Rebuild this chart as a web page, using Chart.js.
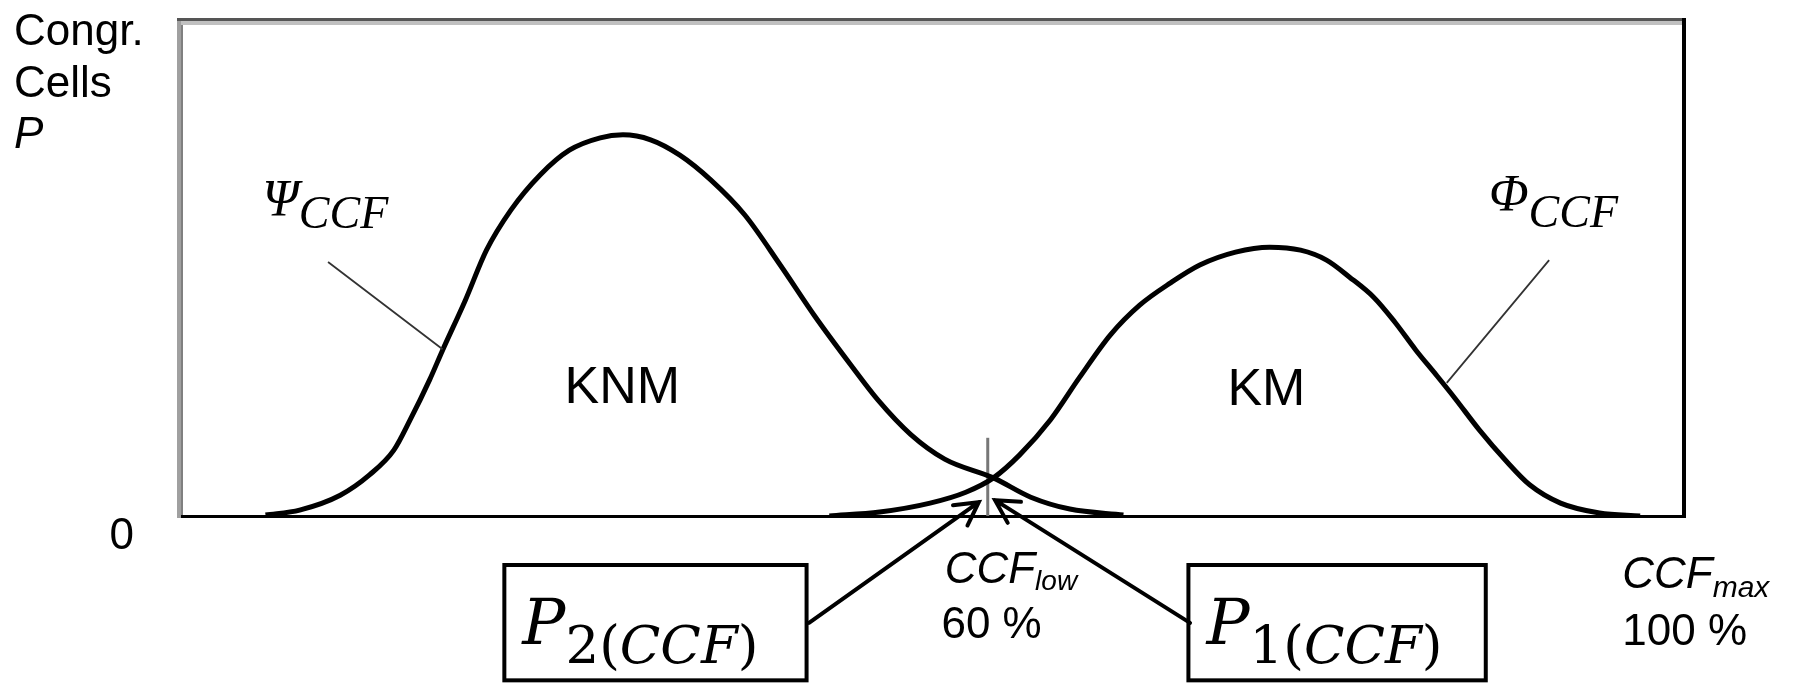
<!DOCTYPE html>
<html>
<head>
<meta charset="utf-8">
<script src="https://cdn.jsdelivr.net/npm/chart.js@4.4.1/dist/chart.umd.min.js"></script>
<style>
  html, body { margin: 0; padding: 0; background: #fff; }
  #wrap { width: 1805px; height: 683px; }
</style>
</head>
<body>
<div id="wrap"><canvas id="ccfChart" width="1805" height="683"></canvas></div>
<script>
// CCF axis (percent) and relative frequency of congruent cells
const knmX = [15.2, 17.3, 19.8, 21.6, 23.1, 24.1, 25.3, 26.1, 27.5, 28.8, 30.3, 32.1, 33.9, 35.8, 37.2,
  38.9, 40.7, 42.6, 44.7, 46.9, 49.0, 51.2, 52.9, 54.9, 57.0, 60.0, 62.3, 64.7, 68.0];
const knmY = [0.2, 1.2, 4.2, 8.3, 13.3, 19.4, 27.5, 33.5, 43.6, 53.7, 61.8, 68.9, 73.9, 76.4, 77.0,
  76.0, 72.9, 67.9, 60.8, 50.6, 40.4, 30.6, 23.4, 16.5, 11.5, 7.7, 3.8, 1.4, 0.2];

const kmX = [49.9, 53.0, 56.1, 58.3, 60.0, 61.6, 63.5, 65.3, 67.2, 69.0, 70.9, 72.7, 74.9, 77.0,
  78.9, 80.5, 81.9, 83.4, 84.7, 86.0, 87.2, 88.4, 89.9, 91.5, 93.0, 94.9, 97.3, 99.8];
const kmY = [0, 0.8, 2.6, 4.8, 7.7, 12.3, 19.4, 28.0, 36.6, 42.6, 47.1, 50.7, 53.3, 54.3,
  53.7, 51.7, 48.3, 44.2, 39.2, 33.5, 28.7, 23.8, 17.4, 11.3, 6.3, 2.6, 0.6, 0];

const ccfLow = 60;
const ccfMax = 100;

const toPoints = (xs, ys) => xs.map((x, i) => ({ x: x, y: ys[i] }));

const SANS = '"Liberation Sans", Arial, sans-serif';
const SERIF = '"Liberation Serif", "Times New Roman", serif';
const MATH = '"DejaVu Serif", serif';

// draws a run of text pieces one after the other: [text, font, dy]
function drawRuns(ctx, x, y, runs) {
  let cx = x;
  runs.forEach(r => {
    ctx.font = r[1];
    ctx.fillText(r[0], cx, y + (r[2] || 0));
    cx += ctx.measureText(r[0]).width;
  });
}

function arrow(ctx, x1, y1, x2, y2) {
  const a = Math.atan2(y2 - y1, x2 - x1);
  const len = 26;
  ctx.beginPath();
  ctx.moveTo(x1, y1);
  ctx.lineTo(x2, y2);
  ctx.moveTo(x2 - len * Math.cos(a - 0.5), y2 - len * Math.sin(a - 0.5));
  ctx.lineTo(x2, y2);
  ctx.lineTo(x2 - len * Math.cos(a + 0.5), y2 - len * Math.sin(a + 0.5));
  ctx.stroke();
}

const framePlugin = {
  id: "frame",
  beforeDatasetsDraw(chart) {
    const ctx = chart.ctx;
    const a = chart.chartArea;
    ctx.save();
    // left wall, grey two tone
    ctx.fillStyle = "#a0a0a0";
    ctx.fillRect(a.left - 4, a.top - 3, 4, a.bottom - a.top + 5);
    ctx.fillStyle = "#808080";
    ctx.fillRect(a.left, a.top, 2, a.bottom - a.top);
    // top edge
    ctx.fillStyle = "#555555";
    ctx.fillRect(a.left - 4, a.top - 3, a.right - a.left + 6, 3);
    ctx.fillStyle = "#c0c0c0";
    ctx.fillRect(a.left, a.top, a.right - a.left - 2, 4);
    // right and bottom edges
    ctx.fillStyle = "#000";
    ctx.fillRect(a.right - 2, a.top - 3, 4, a.bottom - a.top + 5);
    ctx.fillRect(a.left, a.bottom - 1, a.right - a.left + 2, 3);
    // marker at CCF low
    const xs = chart.scales.x, ys = chart.scales.y;
    ctx.strokeStyle = "#777";
    ctx.lineWidth = 3;
    ctx.beginPath();
    ctx.moveTo(xs.getPixelForValue(ccfLow - 0.35), ys.getPixelForValue(15.8));
    ctx.lineTo(xs.getPixelForValue(ccfLow - 0.35), ys.getPixelForValue(0));
    ctx.stroke();
    ctx.restore();
  },
  afterDatasetsDraw(chart) {
    const ctx = chart.ctx;
    const xs = chart.scales.x, ys = chart.scales.y;
    const X = v => xs.getPixelForValue(v);
    const Y = v => ys.getPixelForValue(v);
    ctx.save();
    ctx.fillStyle = "#000";
    ctx.textBaseline = "alphabetic";

    // y axis title and zero
    ctx.font = "44px " + SANS;
    ctx.fillText("Congr.", 14, 45);
    ctx.fillText("Cells", 14, 97);
    ctx.font = "italic 44px " + SANS;
    ctx.fillText("P", 14, 148);
    ctx.font = "44px " + SANS;
    ctx.textAlign = "right";
    ctx.fillText("0", X(7.1), Y(-6.7));
    ctx.textAlign = "left";

    // curve names
    ctx.font = "52px " + SANS;
    ctx.fillText("KNM", X(33.6), Y(22.8));
    ctx.fillText("KM", X(74.4), Y(22.4));

    // leader lines
    ctx.strokeStyle = "#333";
    ctx.lineWidth = 1.8;
    ctx.beginPath();
    ctx.moveTo(X(19.05), Y(51.3));
    ctx.lineTo(X(26.1), Y(33.7));
    ctx.moveTo(X(94.2), Y(51.7));
    ctx.lineTo(X(87.9), Y(26.9));
    ctx.stroke();

    drawRuns(ctx, X(15.0), Y(60.6), [["\u03A8", "italic 52px " + SERIF, 0], ["CCF", "italic 46px " + SERIF, 12]]);
    drawRuns(ctx, X(90.5), Y(61.6), [["\u03A6", "italic 52px " + SERIF, 0], ["CCF", "italic 46px " + SERIF, 16]]);

    // x labels
    drawRuns(ctx, X(57.0), Y(-13.5), [["CCF", "italic 44px " + SANS, 0], ["low", "italic 28px " + SANS, 7]]);
    ctx.font = "44px " + SANS;
    ctx.fillText("60 %", X(56.8), Y(-24.6));
    drawRuns(ctx, X(98.7), Y(-14.5), [["CCF", "italic 44px " + SANS, 0], ["max", "italic 30px " + SANS, 9]]);
    ctx.font = "44px " + SANS;
    ctx.fillText("100 %", X(98.7), Y(-26.1));

    // probability boxes
    ctx.strokeStyle = "#000";
    ctx.lineWidth = 4;
    const boxes = [[29.9, 48.5, "2"], [72.0, 90.3, "1"]];
    boxes.forEach(b => {
      const l = X(b[0]), r = X(b[1]), t = Y(-9.9), btm = Y(-33.2);
      ctx.strokeRect(l, t, r - l, btm - t);
      drawRuns(ctx, l + 18, Y(-25.8), [
        ["P", "italic 64px " + MATH, 0],
        [b[2] + "(", "53px " + MATH, 19],
        ["CCF", "italic 53px " + MATH, 19],
        [")", "53px " + MATH, 19]
      ]);
    });

    // arrows to the crossing
    ctx.lineWidth = 4;
    ctx.lineCap = "round";
    arrow(ctx, X(48.65), Y(-21.6), X(59.1), Y(2.8));
    arrow(ctx, X(72.1), Y(-21.6), X(60.1), Y(3.2));
    ctx.restore();
  }
};

const ctx = document.getElementById("ccfChart").getContext("2d");
const chart = new Chart(ctx, {
  type: "line",
  data: {
    datasets: [
      {
        label: "KNM",
        data: toPoints(knmX, knmY),
        borderColor: "#000",
        borderWidth: 5,
        pointRadius: 0,
        cubicInterpolationMode: "monotone",
        fill: false
      },
      {
        label: "KM",
        data: toPoints(kmX, kmY),
        borderColor: "#000",
        borderWidth: 5,
        pointRadius: 0,
        cubicInterpolationMode: "monotone",
        fill: false
      }
    ]
  },
  options: {
    responsive: false,
    animation: false,
    devicePixelRatio: 1,
    layout: { padding: { left: 181, top: 21, right: 121, bottom: 167 } },
    plugins: {
      legend: { display: false },
      tooltip: { enabled: false }
    },
    scales: {
      x: { type: "linear", min: 10, max: 102.5, display: false },
      y: { min: 0, max: 100, display: false }
    }
  },
  plugins: [framePlugin]
});
</script>
</body>
</html>
